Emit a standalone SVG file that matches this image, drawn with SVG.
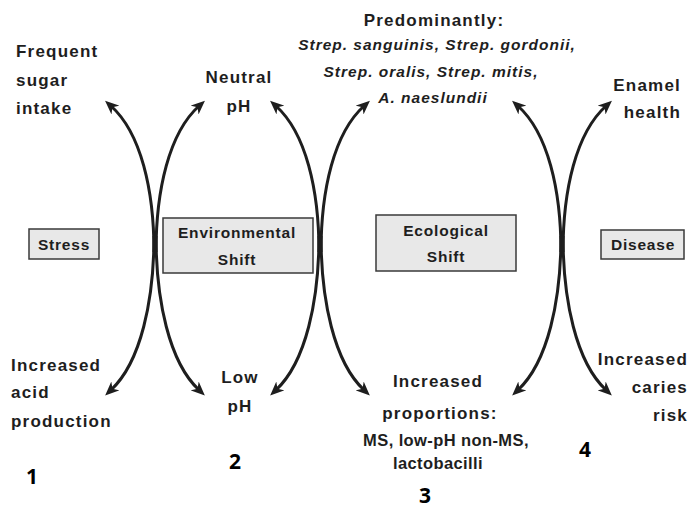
<svg xmlns="http://www.w3.org/2000/svg" width="691" height="510" viewBox="0 0 691 510">
<style>
.lbl{font-family:"Liberation Sans",Arial,sans-serif;font-weight:bold;font-size:17px;fill:#1e1e1e;letter-spacing:1.2px}
.it{font-family:"Liberation Sans",Arial,sans-serif;font-weight:bold;font-style:italic;font-size:15.5px;fill:#1e1e1e;letter-spacing:1px}
.sm{font-family:"Liberation Sans",Arial,sans-serif;font-weight:bold;font-size:16.5px;fill:#1e1e1e;letter-spacing:0.4px}
.box{fill:#e8e8e8;stroke:#3a3a3a;stroke-width:1.5}
.bt{font-family:"Liberation Sans",Arial,sans-serif;font-weight:bold;font-size:15.5px;fill:#1e1e1e;letter-spacing:0.8px;text-anchor:middle}
.num{font-family:"Open Sans","Liberation Sans",sans-serif;font-weight:bold;font-size:21px;fill:#000;text-anchor:middle}
.arr{fill:none;stroke:#1e1e1e;stroke-width:3;marker-end:url(#ah)}
.mid{text-anchor:middle}
.end{text-anchor:end}
</style>
<defs>
<marker id="ah" markerUnits="userSpaceOnUse" viewBox="0 0 14 12" markerWidth="14" markerHeight="12" refX="6" refY="6" orient="auto">
<path d="M0,0 L14,6 L0,12 L4,6 z" fill="#1e1e1e"/>
</marker>
<g id="cross">
<path class="arr" d="M-1,252 C-1,190 -14,133 -44,106"/>
<path class="arr" d="M1,252 C1,190 14,133 44,106"/>
<path class="arr" d="M-1,236 C-1,300 -14,362 -44,390"/>
<path class="arr" d="M1,236 C1,300 14,362 44,390"/>
</g>
</defs>
<rect width="691" height="510" fill="#fff"/>
<g id="connectors">
<use href="#cross" transform="translate(155,0)"/>
<use href="#cross" transform="translate(320,0)"/>
<use href="#cross" transform="translate(562,0)"/>
</g>
<g id="frequent-sugar">
<text class="lbl" x="16" y="57">Frequent</text>
<text class="lbl" x="16" y="86">sugar</text>
<text class="lbl" x="16" y="114">intake</text>
</g>
<g id="neutral-ph">
<text class="lbl mid" x="239" y="83">Neutral</text>
<text class="lbl mid" x="239" y="112">pH</text>
</g>
<g id="predominantly">
<text class="lbl mid" x="434" y="26">Predominantly:</text>
<text class="it mid" x="437" y="50">Strep. sanguinis, Strep. gordonii,</text>
<text class="it mid" x="431" y="77">Strep. oralis, Strep. mitis,</text>
<text class="it mid" x="433" y="103">A. naeslundii</text>
</g>
<g id="enamel-health">
<text class="lbl end" x="681" y="91">Enamel</text>
<text class="lbl end" x="681" y="118">health</text>
</g>
<g id="stress">
<rect class="box" x="29" y="229" width="70" height="30"/>
<text class="bt" x="64" y="250">Stress</text>
</g>
<g id="environmental-shift">
<rect class="box" x="163" y="218" width="150" height="55"/>
<text class="bt" x="237" y="238">Environmental</text>
<text class="bt" x="237" y="265">Shift</text>
</g>
<g id="ecological-shift">
<rect class="box" x="376" y="215" width="140" height="56"/>
<text class="bt" x="446" y="236">Ecological</text>
<text class="bt" x="446" y="262">Shift</text>
</g>
<g id="disease">
<rect class="box" x="601" y="230" width="83" height="29"/>
<text class="bt" x="643" y="250">Disease</text>
</g>
<g id="increased-acid">
<text class="lbl" x="11" y="371">Increased</text>
<text class="lbl" x="11" y="398">acid</text>
<text class="lbl" x="11" y="427">production</text>
</g>
<g id="low-ph">
<text class="lbl mid" x="240" y="383">Low</text>
<text class="lbl mid" x="240" y="412">pH</text>
</g>
<g id="increased-proportions">
<text class="lbl mid" x="438" y="387">Increased</text>
<text class="lbl mid" x="440" y="419">proportions:</text>
<text class="sm mid" x="446" y="446">MS, low-pH non-MS,</text>
<text class="sm mid" x="438" y="469">lactobacilli</text>
</g>
<g id="increased-caries">
<text class="lbl end" x="688" y="365">Increased</text>
<text class="lbl end" x="688" y="393">caries</text>
<text class="lbl end" x="688" y="421">risk</text>
</g>
<g id="numbers">
<text class="num" x="32" y="484">1</text>
<text class="num" x="235" y="469">2</text>
<text class="num" x="425" y="503" font-size="20">3</text>
<text class="num" x="585" y="457">4</text>
</g>
</svg>
